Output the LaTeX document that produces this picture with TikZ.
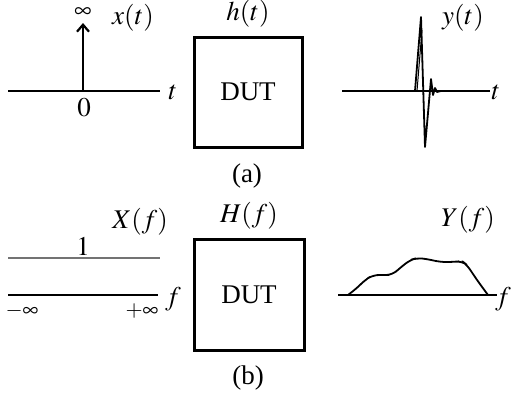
\documentclass[tikz,border=0pt]{standalone}
\usepackage{mathptmx}
\usepackage{fontspec}
\setmainfont{Liberation Serif}
\usetikzlibrary{arrows.meta, positioning}

\begin{document}
\begin{tikzpicture}[
    x=0.5pt, y=-0.5pt,
    font=\fontsize{13.5}{16}\selectfont,
    % Shapes
    dut/.style={rectangle, draw, line width=1.5pt, minimum width=54pt, minimum height=55pt, inner sep=0pt},
    lbl/.style={inner sep=1pt},
    % Lines
    axis/.style={line width=0.6pt},
    thickaxis/.style={line width=1.1pt},
    sig/.style={line width=0.9pt, line join=round},
    impulse/.style={line width=1.1pt, -{Straight Barb[length=3.5pt, width=6pt]}},
]
\useasboundingbox (0,0) rectangle (514,398);

% (a) Time domain
\node[dut] (dutA) at (248,92) {DUT};
\node[lbl, above=3pt of dutA] (hA) {$h(t)$};
\node[lbl] (capA) at (247,176) {(a)};

% input impulse
\coordinate (xa0) at (8,91);
\coordinate (xa1) at (160,91);
\coordinate (imp0) at (83,91);
\coordinate (imp1) at (83,23);
\draw[axis] (xa0) -- (xa1);
\draw[impulse] (imp0) -- (imp1);
\node[inner sep=0pt, font=\fontsize{12}{14}\selectfont] (inf) at (83,13) {$\infty$};
\node[lbl] (xt) at (133,18) {$x(t)$};
\node[lbl] (zero) at (84,108) {$0$};
\node[lbl] (ta) at (173,92) {$t$};

% output response
\coordinate (ya0) at (342,91);
\coordinate (ya1) at (490,91);
\draw[axis] (ya0) -- (ya1);
\draw[sig] (415,91) -- (421,17) -- (425,147) -- (431,79) -- (433,95) -- (435,88) -- (437,92) -- (441,91);
\draw[line width=0.5pt] (417,91) -- (422,30);
\node[lbl] (yt) at (463,18) {$y(t)$};
\node[lbl] (tb) at (496,92) {$t$};

% (b) Frequency domain
\node[dut, minimum width=55pt, minimum height=55.5pt] (dutB) at (249,294.5) {DUT};
\node[lbl, above=3pt of dutB] (hB) {$H(f)$};
\node[lbl] (capB) at (248,378) {(b)};

% input spectrum
\coordinate (xb0) at (8,295);
\coordinate (xb1) at (158,295);
\coordinate (one0) at (8,258);
\coordinate (one1) at (160,258);
\draw[axis, draw=black!55] (one0) -- (one1);
\draw[thickaxis] (xb0) -- (xb1);
\node[lbl] (one) at (83,246) {$1$};
\node[lbl] (Xf) at (140,222) {$X(f)$};
\node[lbl] (fa) at (173,299) {$f$};
\node[lbl, font=\fontsize{11}{13}\selectfont] (minf) at (22,311) {$-\infty$};
\node[lbl, font=\fontsize{11}{13}\selectfont] (pinf) at (142,311) {$+\infty$};

% output spectrum
\coordinate (yb0) at (338,295);
\coordinate (yb1) at (497,295);
\draw[thickaxis] (yb0) -- (yb1);
\draw[sig, rounded corners=3pt] (348,295) -- (357,288) -- (365,280) -- (373,275) -- (383,275) -- (392,275)
    -- (400,268) -- (410,260) -- (417,258) -- (427,259) -- (440,262) -- (453,262) -- (462,261)
    -- (467,265) -- (477,280) -- (488,295);
\node[lbl] (Yf) at (468,220) {$Y(f)$};
\node[lbl] (fb) at (503,299) {$f$};

\end{tikzpicture}
\end{document}
